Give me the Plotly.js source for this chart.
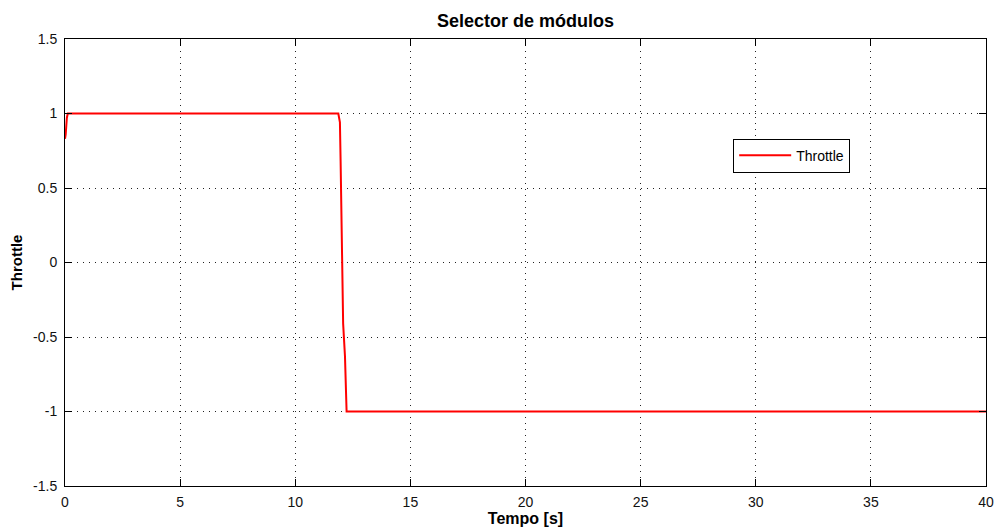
<!DOCTYPE html>
<html>
<head>
<meta charset="utf-8">
<script src="https://cdn.plot.ly/plotly-3.0.1.min.js"></script>
<style>html,body{margin:0;padding:0;background:#fff;}#chart{width:995px;height:532px;}</style>
</head>
<body>
<div id="chart"></div>
<script>
const tempo = [0, 0.03, 0.08, 0.12, 11.87, 11.94, 11.97, 12.00, 12.03, 12.08, 12.16, 12.20, 12.23, 40];
const throttle = [0.83, 0.86, 0.97, 1, 1, 0.94, 0.68, 0.31, -0.06, -0.41, -0.63, -0.85, -1, -1];
const xTicks = [0, 5, 10, 15, 20, 25, 30, 35, 40];
const yTicks = [-1.5, -1, -0.5, 0, 0.5, 1, 1.5];
const yTickText = ['-1.5', '-1', '-0.5', '0', '0.5', '1', '1.5'];

const font = 'Liberation Sans, Arial, sans-serif';
const data = [{
  x: tempo, y: throttle, type: 'scatter', mode: 'lines', name: 'Throttle',
  line: {color: '#ff0000', width: 2}
}];
const axisCommon = {
  showline: true, linecolor: '#000', linewidth: 1, mirror: 'ticks',
  ticks: 'inside', ticklen: 7, tickcolor: '#000', tickwidth: 1,
  showgrid: true, gridcolor: '#222', griddash: '1px,5px', gridwidth: 1,
  zeroline: false, tickfont: {family: font, size: 14, color: '#111'}
};
const layout = {
  width: 995, height: 532,
  margin: {l: 65, r: 9, t: 39, b: 46},
  paper_bgcolor: '#fff', plot_bgcolor: '#fff',
  title: {text: '<b>Selector de módulos</b>', font: {family: font, size: 18, color: '#000'}, x: 0.5, xref: 'paper', y: 1 - 21/532, yanchor: 'middle'},
  xaxis: Object.assign({}, axisCommon, {
    range: [0, 40], tickvals: xTicks, ticktext: xTicks.map(String), ticklabelstandoff: 3,
    title: {text: '<b>Tempo [s]</b>', font: {family: font, size: 16, color: '#000'}, standoff: 2}
  }),
  yaxis: Object.assign({}, axisCommon, {
    range: [-1.5, 1.5], tickvals: yTicks, ticktext: yTickText, ticklabelstandoff: 4,
    title: {text: '<b>Throttle</b>', font: {family: font, size: 15, color: '#000'}, standoff: 6}
  }),
  showlegend: true,
  legend: {x: 0.7255, y: 0.777, xanchor: 'left', yanchor: 'top', bgcolor: '#fff', bordercolor: '#000', borderwidth: 1,
    font: {family: font, size: 14, color: '#000'}, tracegroupgap: 0, itemwidth: 52}
};
Plotly.newPlot('chart', data, layout, {displayModeBar: false});
</script>
</body>
</html>
